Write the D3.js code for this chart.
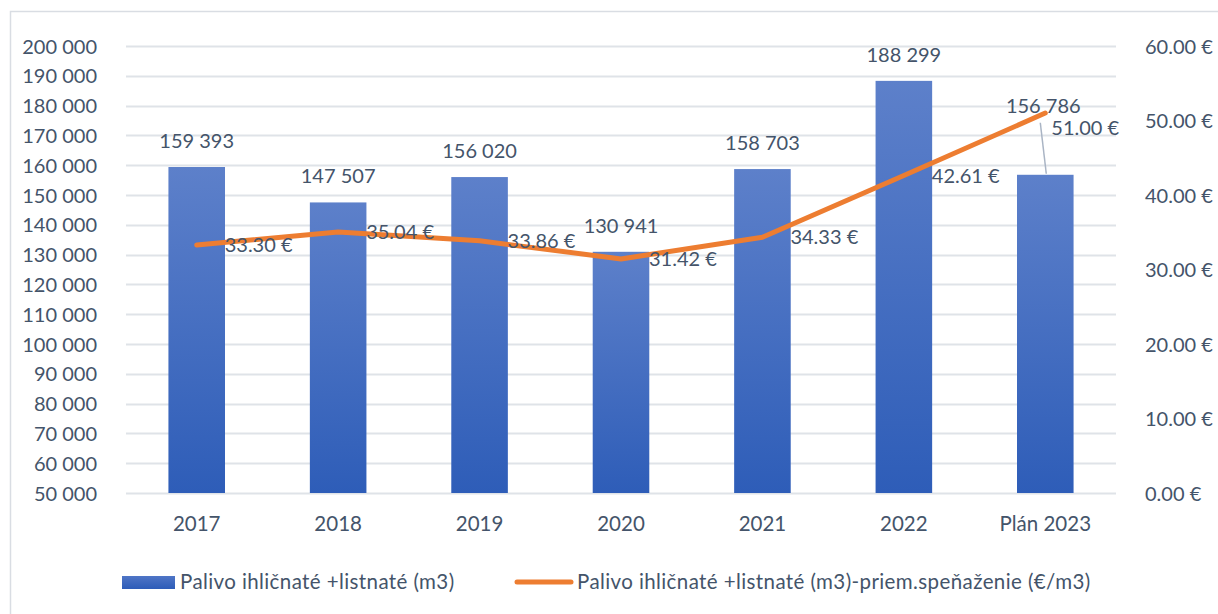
<!DOCTYPE html>
<html>
<head>
<meta charset="utf-8">
<script src="https://cdn.jsdelivr.net/npm/d3@7"></script>
<style>
  body { margin: 0; background: #fff; }
  svg text { font-family: Lato, "Open Sans", sans-serif; fill: #44546a; }
</style>
</head>
<body>
<svg id="chart" width="1218" height="614"></svg>
<script>
// chart data
var years = ["2017", "2018", "2019", "2020", "2021", "2022", "Plán 2023"];
var volume = [159393, 147507, 156020, 130941, 158703, 188299, 156786];
var price = [33.30, 35.04, 33.86, 31.42, 34.33, 42.61, 51.00];
var volTicks = d3.range(50000, 200001, 10000);
var priceTicks = [0, 10, 20, 30, 40, 50, 60];
var barName = "Palivo ihličnaté +listnaté (m3)";
var lineName = "Palivo ihličnaté +listnaté (m3)-priem.speňaženie (€/m3)";

var svg = d3.select("svg"),
    width = +svg.attr("width"),
    height = +svg.attr("height");

var plot = {left: 126, right: 1116, top: 46, bottom: 493};

var fmtVol = function(v) { return d3.format(",")(v).replace(/,/g, " "); };
var fmtPrice = function(v) { return d3.format(".2f")(v) + " €"; };

var x = d3.scaleBand().domain(years).range([plot.left, plot.right]).paddingInner(0.6).paddingOuter(0.3);
var y = d3.scaleLinear().domain([50000, 200000]).range([plot.bottom, plot.top]);
var y2 = d3.scaleLinear().domain([0, 60]).range([plot.bottom, plot.top]);
var cx = function(i) { return x(years[i]) + x.bandwidth() / 2; };

// outer frame (chart area border)
svg.append("path")
    .attr("d", "M10.5," + height + "V11.5H" + width)
    .attr("fill", "none")
    .attr("stroke", "#d9dde3")
    .attr("stroke-width", 1.5);

// gradient for bars
var grad = svg.append("defs").append("linearGradient")
    .attr("id", "barGrad").attr("x1", 0).attr("y1", 0).attr("x2", 0).attr("y2", 1);
grad.append("stop").attr("offset", "0%").attr("stop-color", "#5d80ca");
grad.append("stop").attr("offset", "100%").attr("stop-color", "#2e5db8");
var legGrad = svg.select("defs").append("linearGradient")
    .attr("id", "legGrad").attr("x1", 0).attr("y1", 0).attr("x2", 0).attr("y2", 1);
legGrad.append("stop").attr("offset", "0%").attr("stop-color", "#4f75c6");
legGrad.append("stop").attr("offset", "100%").attr("stop-color", "#2d5cb8");

// gridlines
svg.append("g")
    .selectAll("line")
    .data(volTicks)
    .enter().append("line")
    .attr("x1", plot.left).attr("x2", plot.right)
    .attr("y1", function(d) { return Math.round(y(d)) + 0.5; })
    .attr("y2", function(d) { return Math.round(y(d)) + 0.5; })
    .attr("stroke", "#dfe3e8")
    .attr("stroke-width", 2);

// left axis
var leftAxis = svg.append("g")
    .attr("transform", "translate(" + (plot.left - 29) + ",0)")
    .call(d3.axisLeft(y).tickValues(volTicks).tickFormat(fmtVol).tickSize(0).tickPadding(0));
leftAxis.select(".domain").remove();
leftAxis.selectAll("text").attr("font-size", 20).attr("dy", "0.35em");

// right axis
var rightAxis = svg.append("g")
    .attr("transform", "translate(1145,0)")
    .call(d3.axisRight(y2).tickValues(priceTicks).tickFormat(fmtPrice).tickSize(0).tickPadding(0));
rightAxis.select(".domain").remove();
rightAxis.selectAll("text").attr("font-size", 20).attr("dy", "0.35em");

// bottom axis
var bottomAxis = svg.append("g")
    .attr("transform", "translate(0," + (plot.bottom + 31) + ")")
    .call(d3.axisBottom(x).tickSize(0).tickPadding(0));
bottomAxis.select(".domain").remove();
bottomAxis.selectAll("text").attr("font-size", 20.5).attr("dy", "0.35em");

// bars
svg.append("g")
    .selectAll("rect")
    .data(volume)
    .enter().append("rect")
    .attr("x", function(d, i) { return x(years[i]); })
    .attr("width", x.bandwidth())
    .attr("y", function(d) { return y(d); })
    .attr("height", function(d) { return plot.bottom - y(d); })
    .attr("fill", "url(#barGrad)");

// line
var line = d3.line()
    .x(function(d, i) { return cx(i); })
    .y(function(d) { return y2(d); });
svg.append("path")
    .datum(price)
    .attr("d", line)
    .attr("fill", "none")
    .attr("stroke", "#ed7d31")
    .attr("stroke-width", 5)
    .attr("stroke-linejoin", "round")
    .attr("stroke-linecap", "round");

var last = years.length - 1;

// leader line for the moved last bar label
svg.append("line")
    .attr("x1", cx(last) - 5).attr("y1", y(volume[last]) - 52)
    .attr("x2", cx(last) + 1).attr("y2", y(volume[last]) - 1)
    .attr("stroke", "#a9b4c4")
    .attr("stroke-width", 1.5);

// bar value labels
svg.append("g")
    .selectAll("text")
    .data(volume)
    .enter().append("text")
    .attr("x", function(d, i) { return i == last ? cx(i) - 2 : cx(i); })
    .attr("y", function(d, i) { return i == last ? y(d) - 62 : y(d) - 19; })
    .attr("text-anchor", "middle")
    .attr("font-size", 20)
    .text(fmtVol);

// line value labels
svg.append("g")
    .selectAll("text")
    .data(price)
    .enter().append("text")
    .attr("x", function(d, i) { return i == last ? cx(i) + 6 : cx(i) + 28; })
    .attr("y", function(d) { return y2(d); })
    .attr("dy", function(d, i) { return i == last ? 22 : 7; })
    .attr("font-size", 20)
    .text(fmtPrice);

// legend
var leg = svg.append("g").attr("transform", "translate(0,582)");
leg.append("rect")
    .attr("x", 122).attr("y", -6).attr("width", 53).attr("height", 13)
    .attr("fill", "url(#legGrad)");
leg.append("text")
    .attr("x", 180).attr("dy", "0.35em")
    .attr("font-size", 20.5)
    .attr("letter-spacing", 0.4)
    .text(barName);
leg.append("line")
    .attr("x1", 517).attr("x2", 571)
    .attr("stroke", "#ed7d31").attr("stroke-width", 5).attr("stroke-linecap", "round");
leg.append("text")
    .attr("x", 577).attr("dy", "0.35em")
    .attr("font-size", 20.5)
    .attr("letter-spacing", 0.4)
    .text(lineName);
</script>
</body>
</html>
